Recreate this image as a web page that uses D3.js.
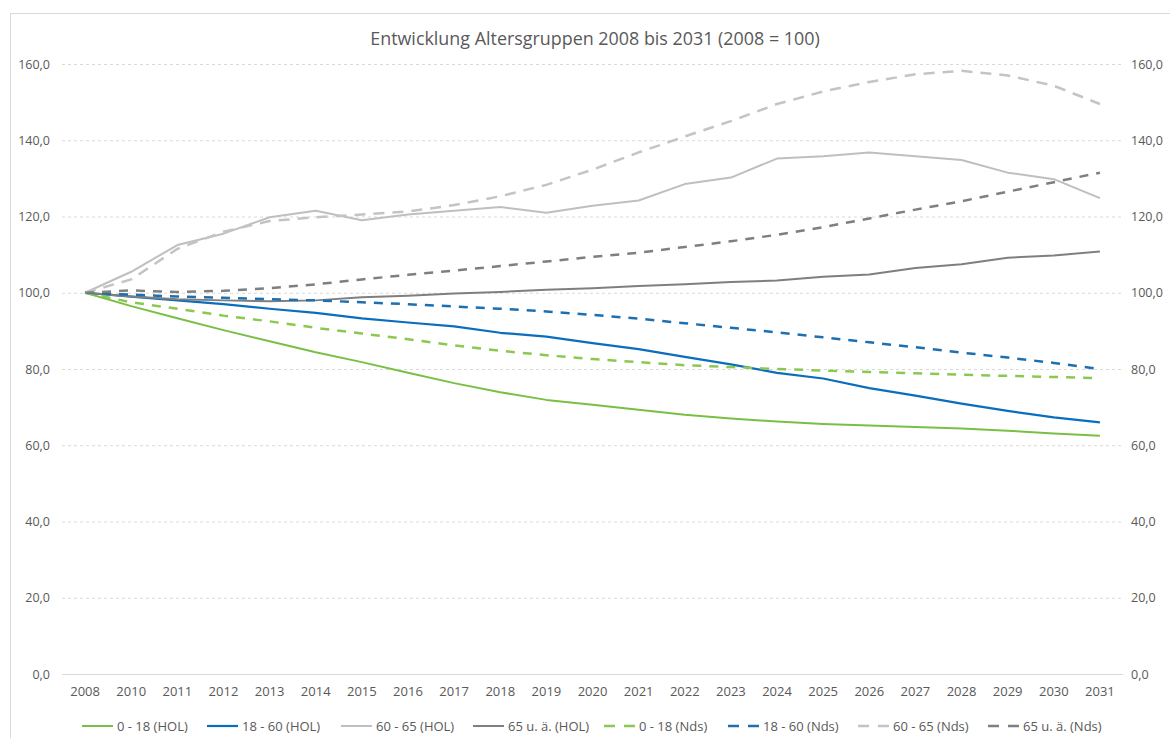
<!DOCTYPE html>
<html>
<head>
<meta charset="utf-8">
<script src="https://cdn.jsdelivr.net/npm/d3@7"></script>
<style>
  body { margin: 0; background: #fff; }
  text { font-family: "Open Sans", "Liberation Sans", sans-serif; fill: #595959; }
</style>
</head>
<body>
<svg id="chart" width="1170" height="738"></svg>
<script>
'use strict';

var years = ["2008","2010","2011","2012","2013","2014","2015","2016","2017","2018","2019","2020",
             "2021","2022","2023","2024","2025","2026","2027","2028","2029","2030","2031"];

var yTicks = [0, 20, 40, 60, 80, 100, 120, 140, 160];

var kids_hol   = [100,96.5,93.3,90.2,87.3,84.4,81.8,79.0,76.3,73.9,71.9,70.6,69.3,68.0,67.0,66.2,65.6,65.2,64.8,64.4,63.8,63.1,62.5];
var adults_hol = [100,99.0,98.0,97.0,95.8,94.7,93.3,92.2,91.2,89.5,88.5,86.8,85.2,83.2,81.2,79.0,77.5,75.0,73.0,70.9,69.0,67.3,66.0];
var senior_hol = [100,105.5,112.5,115.5,119.8,121.5,119.0,120.5,121.5,122.5,121.0,122.8,124.2,128.5,130.2,135.2,135.8,136.8,135.8,134.8,131.5,129.8,124.8];
var old_hol    = [100,99.0,98.3,98.0,97.8,98.0,98.8,99.2,99.8,100.2,100.8,101.2,101.8,102.2,102.8,103.2,104.2,104.8,106.5,107.5,109.2,109.8,110.8];
var kids_nds   = [100,97.5,95.8,94.0,92.5,90.8,89.3,87.8,86.2,84.8,83.6,82.6,81.8,81.0,80.5,80.0,79.6,79.2,78.9,78.5,78.2,77.9,77.6];
var adults_nds = [100,99.5,99.0,98.7,98.3,98.0,97.5,97.0,96.4,95.8,95.1,94.2,93.2,92.0,90.8,89.6,88.3,87.0,85.7,84.3,83.0,81.6,80.0];
var senior_nds = [100,103.5,111.5,116.0,118.8,119.8,120.5,121.3,123.0,125.3,128.3,132.3,136.8,141.0,145.0,149.5,152.8,155.3,157.3,158.2,157.0,154.3,149.5];
var old_nds    = [100,100.6,100.2,100.5,101.2,102.2,103.5,104.7,105.8,107.0,108.2,109.4,110.5,112.0,113.5,115.2,117.2,119.5,121.8,124.0,126.5,129.0,131.5];

var series = [
    {name: "0 - 18 (HOL)",    values: kids_hol,   color: "#78c043", dash: null,  width: 2},
    {name: "18 - 60 (HOL)",   values: adults_hol, color: "#0a6ebd", dash: null,  width: 2.2},
    {name: "60 - 65 (HOL)",   values: senior_hol, color: "#bfbfbf", dash: null,  width: 2},
    {name: "65 u. ä. (HOL)",  values: old_hol,    color: "#7f7f7f", dash: null,  width: 2},
    {name: "0 - 18 (Nds)",    values: kids_nds,   color: "#8cc850", dash: "9,8", width: 2.5},
    {name: "18 - 60 (Nds)",   values: adults_nds, color: "#1d6fb0", dash: "9,8", width: 2.5},
    {name: "60 - 65 (Nds)",   values: senior_nds, color: "#c4c4c4", dash: "11,8", width: 2.5},
    {name: "65 u. ä. (Nds)",  values: old_nds,    color: "#7f7f7f", dash: "9,8", width: 2.5}
];

var svg = d3.select("#chart");

// outer chart frame
svg.append("rect")
    .attr("x", 10.5).attr("y", 13.5)
    .attr("width", 1200).attr("height", 760)
    .attr("fill", "none").attr("stroke", "#d9d9d9");

var x = d3.scaleBand().domain(years).range([62, 1123]);
var y = d3.scaleLinear().domain([0, 160]).range([674, 64]);
function cx(d) { return x(d) + x.bandwidth() / 2; }

var fmt = function(v) { return d3.format(".1f")(v).replace(".", ","); };

// grid
svg.append("g").selectAll("line").data(yTicks).enter().append("line")
    .attr("x1", 62).attr("x2", 1123)
    .attr("y1", function(d){ return y(d) + 0.5; })
    .attr("y2", function(d){ return y(d) + 0.5; })
    .attr("stroke", "#d9d9d9")
    .attr("stroke-dasharray", function(d){ return d === 0 ? null : "3,3"; });

// left and right axes (labels only)
var left = svg.append("g").attr("transform", "translate(50,0)")
    .call(d3.axisLeft(y).tickValues(yTicks).tickFormat(fmt).tickSize(0).tickPadding(0));
var right = svg.append("g").attr("transform", "translate(1131,0)")
    .call(d3.axisRight(y).tickValues(yTicks).tickFormat(fmt).tickSize(0).tickPadding(0));
[left, right].forEach(function(g){
    g.select(".domain").remove();
    g.selectAll("text").attr("font-size", 12.5).attr("fill", "#595959")
        .attr("font-family", "'Open Sans', 'Liberation Sans', sans-serif");
});

// x axis labels
var bottom = svg.append("g").attr("transform", "translate(0,687)")
    .call(d3.axisBottom(x).tickSize(0).tickPadding(0));
bottom.select(".domain").remove();
bottom.selectAll("text").attr("font-size", 13).attr("fill", "#595959")
    .attr("font-family", "'Open Sans', 'Liberation Sans', sans-serif");

// lines
var line = d3.line()
    .x(function(d, i){ return cx(years[i]); })
    .y(function(d){ return y(d); });

svg.append("g").selectAll("path").data(series).enter().append("path")
    .attr("d", function(s){ return line(s.values); })
    .attr("fill", "none")
    .attr("stroke", function(s){ return s.color; })
    .attr("stroke-width", function(s){ return s.width; })
    .attr("stroke-dasharray", function(s){ return s.dash; })
    .attr("stroke-linejoin", "round");

// title
svg.append("text")
    .attr("x", 595).attr("y", 45)
    .attr("text-anchor", "middle")
    .attr("font-size", 17.9)
    .text("Entwicklung Altersgruppen 2008 bis 2031 (2008 = 100)");

// legend
var legendX = [82, 207, 341, 473, 604, 728, 858, 988];
var leg = svg.append("g").selectAll("g").data(series).enter().append("g")
    .attr("transform", function(s, i){ return "translate(" + legendX[i] + ",726)"; });
leg.append("line")
    .attr("x1", 0).attr("x2", 31).attr("y1", 0).attr("y2", 0)
    .attr("stroke", function(s){ return s.color; })
    .attr("stroke-width", function(s){ return s.width; })
    .attr("stroke-dasharray", function(s){ return s.dash ? "11,9" : null; });
leg.append("text")
    .attr("x", 35).attr("y", 4.5)
    .attr("font-size", 13)
    .text(function(s){ return s.name; });
</script>
</body>
</html>
